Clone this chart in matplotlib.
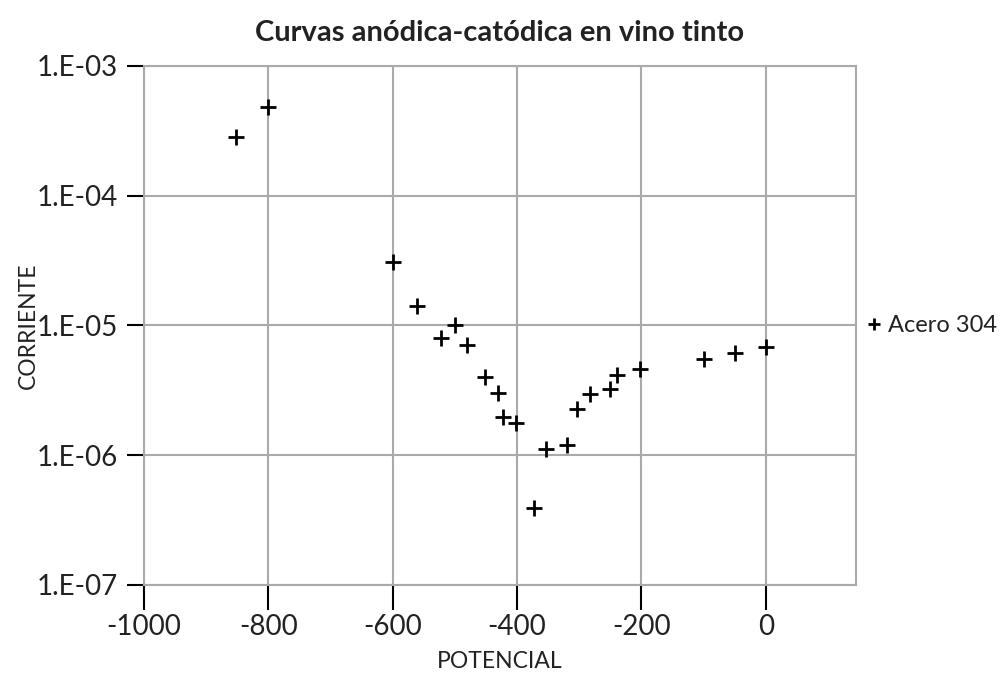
import numpy as np
import matplotlib.pyplot as plt
from matplotlib.ticker import FixedLocator, FixedFormatter

plt.rcParams['font.family'] = ['Lato', 'DejaVu Sans']
plt.rcParams['axes.unicode_minus'] = False

# potencial (mV) y corriente
potencial = [-852, -800, -600, -561, -523, -500, -480, -451, -430, -423, -402,
             -373, -353, -320, -303, -282, -250, -239, -203, -100, -50, 0]
corriente = [2.82e-4, 4.79e-4, 3.05e-5, 1.40e-5, 7.94e-6, 1.0e-5, 7.0e-6,
             4.0e-6, 2.99e-6, 1.98e-6, 1.78e-6, 3.91e-7, 1.11e-6, 1.19e-6,
             2.25e-6, 2.94e-6, 3.22e-6, 4.18e-6, 4.6e-6, 5.5e-6, 6.15e-6, 6.84e-6]

xticks = [-1000, -800, -600, -400, -200, 0]
yticks = [1e-7, 1e-6, 1e-5, 1e-4, 1e-3]
ylabels = ["1.E-07", "1.E-06", "1.E-05", "1.E-04", "1.E-03"]

fig = plt.figure(figsize=(10.07, 6.73), dpi=100)
ax = fig.add_axes([0.143, 0.1308, 0.707, 0.7716])

ax.plot(potencial, corriente, linestyle='none', marker='+', markersize=11,
        markeredgewidth=2, color='black', label='Acero 304')

ax.set_yscale('log')
ax.set_xlim(-1000, 145)
ax.set_ylim(1e-7, 1e-3)
ax.set_xticks(xticks)
ax.yaxis.set_major_locator(FixedLocator(yticks))
ax.yaxis.set_major_formatter(FixedFormatter(ylabels))
ax.yaxis.set_minor_locator(FixedLocator([]))

ax.grid(True, color='#aaaaaa', linewidth=1.5)
for s in ax.spines.values():
    s.set_color('#aaaaaa')
    s.set_linewidth(1.5)
ax.tick_params(axis='both', labelsize=20, color='black', width=1.5,
               labelcolor='#222222')
ax.tick_params(axis='x', length=18, pad=3)
ax.tick_params(axis='y', length=12, pad=7)

ax.set_xlabel('POTENCIAL', fontsize=16.5, color='#222222', labelpad=8)
ax.set_ylabel('CORRIENTE', fontsize=16.5, color='#222222', labelpad=-2)
ax.set_title('Curvas anódica-catódica en vino tinto', fontsize=21,
             fontweight='bold', color='#222222', pad=18)

leg = ax.legend(loc='center left', bbox_to_anchor=(1.0, 0.5), frameon=False,
                fontsize=17, handlelength=0.5, handletextpad=0.35,
                borderaxespad=0.1, markerscale=0.8)
for t in leg.get_texts():
    t.set_color('#222222')

fig.savefig('out.png', dpi=100)
